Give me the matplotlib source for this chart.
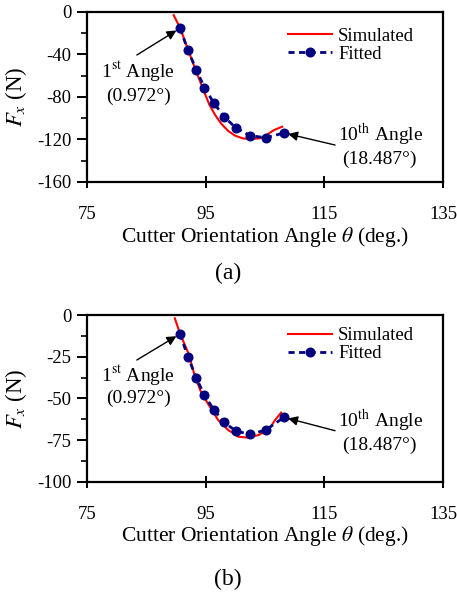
import matplotlib
matplotlib.use("Agg")
import matplotlib.pyplot as plt
from matplotlib.ticker import MultipleLocator

plt.rcParams['font.family'] = ['Liberation Serif', 'DejaVu Serif']
plt.rcParams['mathtext.fontset'] = 'stix'
plt.rcParams['axes.unicode_minus'] = False

# ---- data (a) ----
fit_theta = [90.67, 92.0, 93.4, 94.8, 96.4, 98.1, 100.1, 102.5, 105.1, 108.2]
fit_a = [-15.3, -35.8, -54.3, -71.2, -85.9, -98.5, -109.2, -116.4, -118.3, -113.9]
sim_theta_a = [89.6, 90.7, 92.0, 93.4, 94.6, 95.6, 96.6, 97.6, 98.8, 100.0, 101.3,
               102.5, 104.0, 104.8, 105.6, 106.4, 107.2, 107.9]
sim_a = [-3, -15, -35, -56, -73, -87, -97, -105, -112, -116.5, -119, -119.5,
         -119, -117.5, -114.5, -111.5, -109.5, -108]

# ---- data (b) ----
fit_b = [-11.4, -25.0, -37.6, -48.2, -57.0, -64.4, -69.6, -71.6, -69.0, -61.4]
sim_theta_b = [89.8, 90.7, 92.1, 93.2, 94.3, 95.7, 97.1, 98.8, 100.5, 102.2,
               103.9, 105.6, 106.7, 107.7]
sim_b = [-2.0, -11.4, -23, -37, -47, -55, -63, -69, -73, -73.6, -72, -69, -63, -58.6]

x_ticks = [75, 95, 115, 135]
yticks_a = [0, -40, -80, -120, -160]
yticks_b = [0, -25, -50, -75, -100]

fig = plt.figure(figsize=(4.57, 5.93), dpi=100)

FS_TICK = 13.5
FS_LAB = 15.5
FS_ANN = 14
FS_LEG = 13.5


def panel(rect, sim_x, sim_y, fy, yticks, ann, tag, leg_y):
    ax = fig.add_axes(rect)
    ax.plot(sim_x, sim_y, color='#ff0000', lw=1.5, label='Simulated', zorder=2)
    ax.plot(fit_theta, fy, color='#000080', lw=2.0, ls=(0, (2.2, 1.6)), marker='o',
            ms=6.2, mfc='#000080', mec='#000080', label='Fitted', zorder=3)
    ax.set_xlim(75, 135)
    ax.set_ylim(min(yticks), 0)
    ax.set_xticks(x_ticks)
    ax.set_yticks(yticks)
    ax.yaxis.set_minor_locator(MultipleLocator((yticks[0] - yticks[1]) / 2))
    for s in ax.spines.values():
        s.set_linewidth(1.6)
    ax.tick_params(axis='x', which='major', direction='inout', length=9, width=1.4,
                   labelsize=FS_TICK, pad=13)
    ax.tick_params(axis='y', which='major', direction='out', length=7, width=1.4,
                   labelsize=FS_TICK, pad=4)
    ax.tick_params(axis='y', which='minor', direction='out', length=4, width=1.2)
    ax.set_xlabel(r'Cutter Orientation Angle $\theta$ (deg.)', fontsize=FS_LAB, labelpad=1)
    ax.set_ylabel(r'$F_x$ (N)', fontsize=FS_LAB + 1, labelpad=6)
    ax.legend(loc='upper left', bbox_to_anchor=(0.5646, leg_y), frameon=False,
              fontsize=FS_LEG, handlelength=2.35, handletextpad=0.32,
              labelspacing=0.05, borderpad=0, borderaxespad=0)
    (t1, t2, tail1, t3, t4, tail2) = ann
    ax.text(t1[0], t1[1], r'1$^{\mathrm{st}}$ Angle', ha='center', va='center', fontsize=FS_ANN)
    ax.text(t2[0], t2[1], '(0.972°)', ha='center', va='center', fontsize=FS_ANN)
    ax.annotate('', xy=(fit_theta[0], fy[0]), xytext=tail1,
                arrowprops=dict(arrowstyle='-|>', color='black', lw=1.0,
                                shrinkA=0, shrinkB=3, mutation_scale=14))
    ax.text(t3[0], t3[1], r'10$^{\mathrm{th}}$ Angle', ha='center', va='center', fontsize=FS_ANN)
    ax.text(t4[0], t4[1], '(18.487°)', ha='center', va='center', fontsize=FS_ANN)
    ax.annotate('', xy=(fit_theta[-1], fy[-1]), xytext=tail2,
                arrowprops=dict(arrowstyle='-|>', color='black', lw=1.0,
                                shrinkA=0, shrinkB=3, mutation_scale=14))
    fig.text(tag[0], tag[1], tag[2], ha='center', va='center', fontsize=17)
    return ax


panel([0.1904, 0.6931, 0.779, 0.2867], sim_theta_a, sim_a, fit_a, yticks_a,
      ((83.6, -56.2), (83.6, -79.1), (83.4, -40.5),
       (124.4, -115.8), (124.2, -138.8), (116.8, -125.2)),
      (0.499, 1 - 273 / 593, '(a)'), 0.907)

panel([0.1904, 0.1877, 0.779, 0.2811], sim_theta_b, sim_b, fit_b, yticks_b,
      ((83.6, -36.3), (83.6, -49.8), (83.4, -27.0),
       (124.4, -63.5), (124.2, -78.0), (116.8, -69.4)),
      (0.499, 1 - 579 / 593, '(b)'), 0.927)

fig.savefig('out.png', dpi=100)
